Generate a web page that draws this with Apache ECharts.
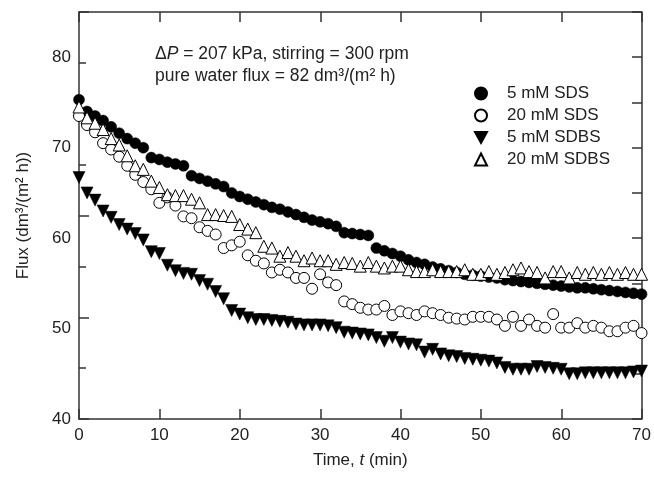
<!DOCTYPE html>
<html>
<head>
<meta charset="utf-8">
<script src="https://cdn.jsdelivr.net/npm/echarts@6/dist/echarts.min.js"></script>
<style>
  html, body { margin: 0; padding: 0; background: #fff; }
  #chart { width: 654px; height: 477px; }
</style>
</head>
<body>
<div id="chart"></div>
<script>
// time in minutes, one reading per minute
var times = [];
for (var i = 0; i <= 70; i++) times.push(i);

var sds5 = [75.3, 74.0, 73.5, 73.0, 72.3, 71.6, 71.0, 70.5, 70.0, 68.9,
  68.7, 68.4, 68.2, 68.0, 66.9, 66.6, 66.3, 66.0, 65.7, 65.0,
  64.6, 64.3, 64.0, 63.7, 63.4, 63.2, 62.9, 62.6, 62.3, 62.0,
  61.8, 61.6, 61.3, 60.6, 60.5, 60.4, 60.3, 58.9, 58.6, 58.3,
  58.0, 57.6, 57.3, 57.1, 56.8, 56.6, 56.4, 56.2, 56.0, 55.9,
  55.8, 55.7, 55.6, 55.4, 55.3, 55.2, 55.1, 55.0, 54.9, 54.8,
  54.7, 54.6, 54.5, 54.5, 54.4, 54.3, 54.2, 54.1, 54.0, 53.9, 53.8];

var sds20 = [73.5, 72.5, 71.7, 70.5, 69.8, 69.0, 68.0, 67.0, 66.2, 65.4,
  63.9, 64.5, 63.6, 62.4, 62.2, 61.2, 60.8, 60.4, 58.9, 59.2,
  59.6, 58.1, 57.5, 57.2, 56.2, 56.5, 56.2, 55.6, 55.6, 54.4,
  56.0, 55.1, 54.8, 53.0, 52.7, 52.3, 52.1, 52.1, 52.5, 51.5,
  51.9, 51.7, 51.5, 51.9, 51.7, 51.5, 51.2, 51.1, 51.0, 51.3,
  51.3, 51.3, 51.0, 50.3, 51.3, 50.3, 51.0, 50.3, 50.1, 51.6,
  50.1, 50.1, 50.6, 50.1, 50.3, 50.1, 49.7, 49.7, 50.1, 50.3, 49.5];

var sdbs5 = [66.7, 65.0, 64.2, 63.0, 62.3, 61.5, 61.0, 60.5, 59.8, 58.5,
  58.3, 57.0, 56.4, 56.1, 56.0, 55.3, 54.9, 54.1, 53.3, 52.0,
  51.6, 51.2, 51.0, 51.0, 50.9, 50.8, 50.7, 50.5, 50.4, 50.4,
  50.4, 50.3, 50.1, 49.6, 49.5, 49.4, 49.3, 49.0, 48.6, 49.0,
  48.5, 48.3, 48.2, 47.4, 47.7, 47.2, 47.0, 46.9, 46.7, 46.6,
  46.5, 46.4, 46.2, 45.7, 45.5, 45.5, 45.5, 45.8, 45.7, 45.6,
  45.5, 45.0, 45.0, 45.1, 45.1, 45.1, 45.1, 45.1, 45.1, 45.2, 45.3];

var sdbs20 = [74.5, 73.3, 72.7, 72.0, 71.0, 70.3, 69.1, 68.0, 67.6, 66.3,
  65.6, 64.8, 64.7, 64.7, 64.3, 63.9, 62.6, 62.6, 62.5, 62.4,
  61.5, 61.0, 60.6, 59.1, 58.9, 58.0, 58.4, 58.0, 57.5, 57.8,
  57.5, 57.5, 57.1, 57.3, 57.2, 56.9, 57.3, 56.9, 56.7, 56.9,
  56.9, 56.5, 56.3, 56.3, 56.5, 56.3, 56.3, 56.3, 56.5, 56.0,
  56.0, 56.3, 56.0, 56.2, 56.5, 56.7, 56.3, 56.2, 55.6, 56.3,
  56.3, 55.6, 56.2, 56.0, 56.2, 56.0, 56.2, 56.0, 56.2, 56.0, 56.0];

var seriesNames = ['5 mM SDS', '20 mM SDS', '5 mM SDBS', '20 mM SDBS'];

function pairs(ys) {
  var out = [];
  for (var i = 0; i < ys.length; i++) out.push([times[i], ys[i]]);
  return out;
}

var font = 'Liberation Sans, Arial, sans-serif';
var axisColor = '#333';
var tickStyle = { color: axisColor, width: 1.5 };

var myChart = echarts.init(document.getElementById('chart'), null, { renderer: 'canvas' });

// main plot box; the tick grids are the same box pulled in by the tick length,
// so their ordinary outward ticks end on the frame and look like inward ticks
var grids = [
  { left: 79, right: 12, top: 12, bottom: 58 },   // 0 data + frame + labels
  { left: 89, right: 22, top: 12, bottom: 58 },   // 1 left/right major ticks
  { left: 79, right: 12, top: 22, bottom: 68 },   // 2 top/bottom ticks
  { left: 86, right: 12, top: 12, bottom: 58 }    // 3 left minor ticks
];

function hiddenAxis(grid, min, max) {
  return { gridIndex: grid, type: 'value', show: false, min: min, max: max,
    axisLine: { onZero: false } };
}

function tickAxis(grid, pos, min, max, interval, len) {
  return {
    gridIndex: grid, type: 'value', position: pos, min: min, max: max, interval: interval,
    axisLine: { show: false, onZero: false },
    axisTick: { show: true, length: len, lineStyle: tickStyle },
    axisLabel: { show: false },
    splitLine: { show: false }
  };
}

var option = {
  animation: false,
  backgroundColor: '#fff',
  textStyle: { fontFamily: font, color: '#222' },
  grid: grids,
  legend: {
    orient: 'vertical',
    left: 469,
    top: 80,
    itemWidth: 12,
    itemHeight: 12,
    itemGap: 5,
    data: [
      { name: seriesNames[0] },
      { name: seriesNames[1] },
      { name: seriesNames[2], icon: 'path://M0,0 L12,0 L6,11 Z' },
      { name: seriesNames[3] }
    ],
    formatter: function (name) { return '{g|}{n|' + name + '}'; },
    textStyle: {
      rich: {
        g: { width: 15 },
        n: { fontFamily: font, fontSize: 17, color: '#222' }
      }
    }
  },
  xAxis: [{
    gridIndex: 0, type: 'value', position: 'bottom', min: 0, max: 70, interval: 10,
    name: '{a|Time, }{b|t}{a| (min)}', nameLocation: 'middle', nameGap: 33,
    nameTextStyle: { rich: {
      a: { fontFamily: font, fontSize: 17, color: '#222' },
      b: { fontFamily: font, fontSize: 17, color: '#222', fontStyle: 'italic' }
    } },
    axisLine: { onZero: false, lineStyle: tickStyle },
    axisTick: { show: false },
    axisLabel: { fontFamily: font, fontSize: 17, color: '#222', margin: 8 },
    splitLine: { show: false }
  }, {
    gridIndex: 0, type: 'value', position: 'top', min: 0, max: 70, interval: 10,
    axisLine: { onZero: false, lineStyle: tickStyle },
    axisTick: { show: false },
    axisLabel: { show: false },
    splitLine: { show: false }
  },
    hiddenAxis(1, 0, 70),
    tickAxis(2, 'bottom', 0, 70, 10, 10),
    tickAxis(2, 'top', 0, 70, 10, 10),
    hiddenAxis(3, 0, 70)
  ],
  yAxis: [{
    gridIndex: 0, type: 'value', position: 'left', min: 40, max: 85, interval: 10,
    name: 'Flux (dm³/(m² h))', nameLocation: 'middle', nameGap: 47,
    nameTextStyle: { fontFamily: font, fontSize: 17, color: '#222' },
    axisLine: { onZero: false, lineStyle: tickStyle },
    axisTick: { show: false },
    axisLabel: { fontFamily: font, fontSize: 17, color: '#222', margin: 8,
      formatter: function (v) { return v > 80 ? '' : v; } },
    splitLine: { show: false }
  }, {
    gridIndex: 0, type: 'value', position: 'right', min: 40, max: 85, interval: 5,
    axisLine: { onZero: false, lineStyle: tickStyle },
    axisTick: { show: false },
    axisLabel: { show: false },
    splitLine: { show: false }
  },
    tickAxis(1, 'left', 40, 80, 10, 10),
    tickAxis(1, 'right', 40, 85, 5, 10),
    hiddenAxis(2, 40, 85),
    tickAxis(3, 'left', 40, 80, 5, 7)
  ],
  graphic: [{
    type: 'text', left: 155, top: 45,
    style: {
      text: '{a|Δ}{b|P}{a| = 207 kPa, stirring = 300 rpm}',
      rich: {
        a: { fontFamily: font, fontSize: 17.5, fill: '#222' },
        b: { fontFamily: font, fontSize: 17.5, fill: '#222', fontStyle: 'italic' }
      }
    }
  }, {
    type: 'text', left: 155, top: 67,
    style: { text: 'pure water flux = 82 dm³/(m² h)', font: '17.5px ' + font, fill: '#222' }
  }],
  series: [{
    name: seriesNames[0], type: 'scatter', xAxisIndex: 0, yAxisIndex: 0, data: pairs(sds5),
    symbol: 'circle', symbolSize: 11,
    itemStyle: { color: '#000', borderColor: '#000', borderWidth: 0.5, opacity: 1 }
  }, {
    name: seriesNames[1], type: 'scatter', xAxisIndex: 0, yAxisIndex: 0, data: pairs(sds20),
    symbol: 'circle', symbolSize: 11,
    itemStyle: { color: '#fff', borderColor: '#000', borderWidth: 1, opacity: 1 }
  }, {
    name: seriesNames[2], type: 'scatter', xAxisIndex: 0, yAxisIndex: 0, data: pairs(sdbs5),
    symbol: 'triangle', symbolRotate: 180, symbolSize: 12,
    itemStyle: { color: '#000', borderColor: '#000', borderWidth: 0.5, opacity: 1 }
  }, {
    name: seriesNames[3], type: 'scatter', xAxisIndex: 0, yAxisIndex: 0, data: pairs(sdbs20),
    symbol: 'triangle', symbolSize: 12,
    itemStyle: { color: '#fff', borderColor: '#000', borderWidth: 1, opacity: 1 }
  }]
};

myChart.setOption(option);
</script>
</body>
</html>
